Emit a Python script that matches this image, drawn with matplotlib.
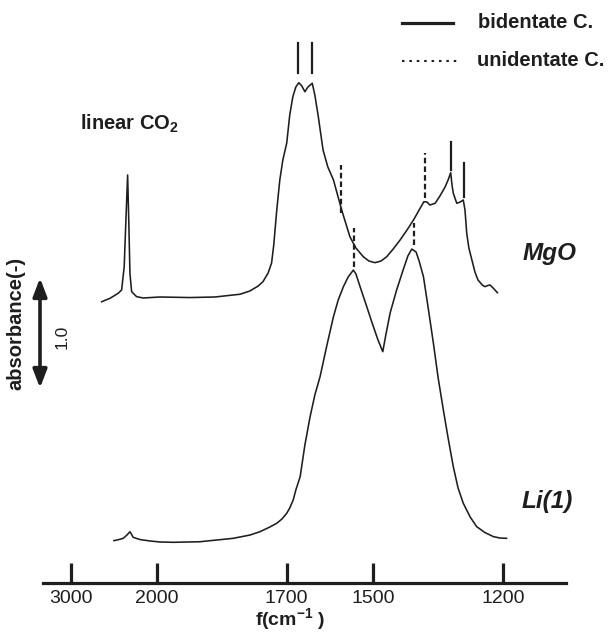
import numpy as np
import matplotlib
matplotlib.use("Agg")
import matplotlib.pyplot as plt
from matplotlib.lines import Line2D

plt.rcParams['font.family'] = ['Liberation Sans', 'DejaVu Sans']
plt.rcParams['mathtext.fontset'] = 'custom'
plt.rcParams['mathtext.rm'] = 'Liberation Sans'
plt.rcParams['mathtext.bf'] = 'Liberation Sans:bold'
plt.rcParams['mathtext.it'] = 'Liberation Sans:italic'

# ---------------- data (wavenumber cm-1, absorbance incl. stacking offset) ----------------
mgo_wn = [2645, 2548, 2452, 2412, 2382, 2362, 2342, 2327, 2315, 2295, 2237, 2160,
          1993, 1924, 1866, 1808, 1785, 1766, 1755, 1743, 1735, 1730, 1723, 1716,
          1709, 1700, 1693, 1686, 1679, 1672, 1665, 1658, 1651, 1641, 1635, 1627,
          1621, 1616, 1605, 1592, 1573, 1554, 1540, 1523, 1510, 1496, 1482, 1469,
          1454, 1438, 1422, 1407, 1394, 1383, 1376, 1369, 1357, 1346, 1334, 1327,
          1321, 1318, 1315, 1307, 1299, 1292, 1288, 1284, 1279, 1272, 1265, 1258,
          1248, 1242, 1235, 1230, 1223, 1213]
mgo_abs = [2.557, 2.588, 2.634, 2.664, 2.875, 3.30, 3.709, 3.239, 2.815, 2.648, 2.603,
           2.591, 2.60, 2.595, 2.60, 2.625, 2.655, 2.70, 2.739, 2.818, 2.909, 3.073,
           3.391, 3.664, 3.845, 4.0, 4.255, 4.418, 4.509, 4.548, 4.518, 4.466, 4.509,
           4.543, 4.436, 4.239, 4.073, 3.936, 3.782, 3.664, 3.391, 3.148, 3.045, 2.966,
           2.927, 2.912, 2.927, 2.966, 3.036, 3.118, 3.209, 3.30, 3.391, 3.466, 3.464,
           3.436, 3.452, 3.518, 3.60, 3.664, 3.73, 3.618, 3.543, 3.452, 3.464, 3.482,
           3.391, 3.18, 3.045, 2.936, 2.827, 2.755, 2.709, 2.694, 2.705, 2.709, 2.682,
           2.639]

li_wn = [2502, 2443, 2393, 2350, 2315, 2298, 2277, 2198, 2082, 1993, 1962, 1901, 1824,
         1785, 1762, 1739, 1723, 1711, 1700, 1693, 1685, 1679, 1669, 1658, 1646, 1635,
         1623, 1607, 1592, 1581, 1569, 1558, 1546, 1540, 1531, 1515, 1501, 1489, 1478,
         1471, 1461, 1446, 1431, 1420, 1411, 1401, 1394, 1384, 1373, 1361, 1350, 1338,
         1327, 1315, 1304, 1292, 1276, 1261, 1242, 1222, 1207, 1192]
li_abs = [0.385, 0.395, 0.406, 0.436, 0.466, 0.445, 0.415, 0.395, 0.382, 0.373, 0.370,
          0.375, 0.406, 0.436, 0.466, 0.509, 0.543, 0.582, 0.634, 0.682, 0.755, 0.845,
          0.966, 1.255, 1.512, 1.709, 1.875, 2.164, 2.421, 2.573, 2.694, 2.782, 2.845,
          2.809, 2.70, 2.512, 2.345, 2.209, 2.103, 2.255, 2.455, 2.664, 2.845, 2.973,
          3.036, 3.009, 2.927, 2.785, 2.50, 2.179, 1.864, 1.573, 1.318, 1.057, 0.864,
          0.725, 0.60, 0.512, 0.459, 0.421, 0.409, 0.406]

# band markers: (wavenumber, y_bottom, y_top)
bidentate_marks = [(1673, 4.634, 4.906), (1642, 4.634, 4.906),
                   (1321, 3.755, 4.009), (1290, 3.509, 3.818)]
unidentate_marks = [(1575, 3.364, 3.80), (1381, 3.50, 3.909),
                    (1545, 2.873, 3.227), (1406, 3.073, 3.273)]

tick_values = [3000, 2000, 1700, 1500, 1200]
tick_labels = ['3000', '2000', '1700', '1500', '1200']

# ---------------- broken (compressed above 2000) wavenumber scale ----------------
R = 0.198


def fwd(x):
    x = np.asarray(x, dtype=float)
    return np.where(x <= 2000, x, 2000 + (x - 2000) * R)


def inv(y):
    y = np.asarray(y, dtype=float)
    return np.where(y <= 2000, y, 2000 + (y - 2000) / R)


W, H = 611, 636
fig = plt.figure(figsize=(W / 100, H / 100), dpi=100)
ax = fig.add_axes([42.9 / W, 53 / H, (565.8 - 42.9) / W, 583 / H])
ax.set_xscale('function', functions=(fwd, inv))
ax.set_xlim(3331, 1055)
ax.set_ylim(0, 583 / 110)

ink = '#1e1e1e'
ax.plot(mgo_wn, mgo_abs, color=ink, lw=1.15, solid_joinstyle='round')
ax.plot(li_wn, li_abs, color=ink, lw=1.15, solid_joinstyle='round')

for wn, y0, y1 in bidentate_marks:
    ax.plot([wn, wn], [y0, y1], color=ink, lw=1.6)
for wn, y0, y1 in unidentate_marks:
    ax.plot([wn, wn], [y0, y1], color=ink, lw=1.6, linestyle=(0, (2.5, 1.4)))

for s in ['left', 'right', 'top']:
    ax.spines[s].set_visible(False)
ax.spines['bottom'].set_linewidth(2.3)
ax.spines['bottom'].set_color(ink)
ax.set_yticks([])
ax.set_xticks(tick_values)
ax.set_xticklabels(tick_labels)
ax.xaxis.set_minor_locator(matplotlib.ticker.NullLocator())
ax.tick_params(axis='x', direction='in', length=14.4, width=2.3, color=ink,
               pad=5, labelsize=14, labelcolor=ink)
ax.patch.set_alpha(0)


def px(x, y):
    return x / W, 1 - y / H


fig.text(*px(80, 130), r'linear CO$_\mathbf{2}$', fontsize=14.5, fontweight='bold',
         color=ink, ha='left', va='baseline')
fig.text(*px(523, 260), 'MgO', fontsize=17.5, fontweight='bold', fontstyle='italic',
         color=ink, ha='left', va='baseline')
fig.text(*px(522, 508), 'Li(1)', fontsize=17.5, fontweight='bold', fontstyle='italic',
         color=ink, ha='left', va='baseline')
fig.text(*px(255, 625), r'f(cm$^\mathbf{-1}$ )', fontsize=14, fontweight='bold',
         color=ink, ha='left', va='baseline')
fig.text(*px(16, 323), 'absorbance(-)', fontsize=14.5, fontweight='bold', rotation=90,
         color=ink, ha='center', va='center')
fig.text(*px(62, 337), '1.0', fontsize=12.5, rotation=90, color=ink,
         ha='center', va='center')

# scale arrow
ax_arrow = fig.add_axes([0, 0, 1, 1])
ax_arrow.set_xlim(0, W)
ax_arrow.set_ylim(H, 0)
ax_arrow.axis('off')
ax_arrow.annotate('', xy=(40, 278), xytext=(40, 388),
                  arrowprops=dict(arrowstyle='<|-|>,head_length=1.1,head_width=0.42',
                                  color=ink, lw=2.6, shrinkA=0, shrinkB=0))

# legend
ax_arrow.add_line(Line2D([401.7, 452.7], [22.7, 22.7], color=ink, lw=2.3))
ax_arrow.add_line(Line2D([401.7, 456.7], [61, 61], color=ink, lw=1.5,
                         linestyle=(0, (1.2, 2.35))))
ax_arrow.text(478, 23, 'bidentate C.', fontsize=14.5, fontweight='bold', color=ink,
              ha='left', va='center')
ax_arrow.text(477, 61, 'unidentate C.', fontsize=14.5, fontweight='bold', color=ink,
              ha='left', va='center')

fig.savefig('out.png', dpi=100, facecolor='white')
